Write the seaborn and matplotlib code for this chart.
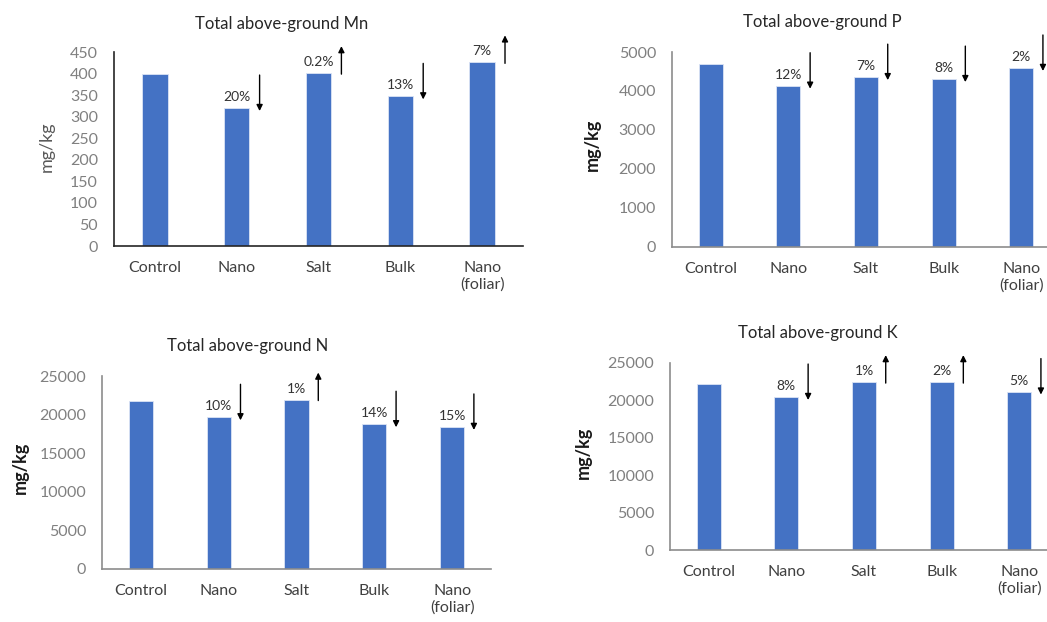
import matplotlib.pyplot as plt
import seaborn as sns

categories = ["Control", "Nano", "Salt", "Bulk", "Nano\n(foliar)"]

mn_values = [400, 320, 401, 347, 426]
mn_labels = ["", "20%", "0.2%", "13%", "7%"]
mn_dirs = [0, -1, 1, -1, 1]

p_values = [4690, 4135, 4355, 4305, 4590]
p_labels = ["", "12%", "7%", "8%", "2%"]
p_dirs = [0, -1, -1, -1, -1]

n_values = [21800, 19650, 21950, 18750, 18400]
n_labels = ["", "10%", "1%", "14%", "15%"]
n_dirs = [0, -1, 1, -1, -1]

k_values = [22250, 20450, 22450, 22450, 21180]
k_labels = ["", "8%", "1%", "2%", "5%"]
k_dirs = [0, -1, 1, 1, -1]

W, H = 1047, 622
BAR = "#4472C4"

sns.set_style("white")
plt.rcParams["font.family"] = ["Lato", "DejaVu Sans"]

fig = plt.figure(figsize=(W / 100, H / 100), dpi=100)

# name, values, labels, dirs, ymax, step, axes box in pixels (left, top, right, bottom),
# title pos, ylabel pos, spine colour, ylabel style
panels = [
    ("Mn", mn_values, mn_labels, mn_dirs, 450, 50, (114, 52, 523, 246), (282, 24), (47, 147), "#262626", "gray"),
    ("P", p_values, p_labels, p_dirs, 5000, 1000, (672, 52, 1060, 247), (822, 22), (592, 145), "#8c8c8c", "bold"),
    ("N", n_values, n_labels, n_dirs, 25000, 5000, (102, 376, 491, 569), (248, 346), (20, 468), "#8c8c8c", "bold"),
    ("K", k_values, k_labels, k_dirs, 25000, 5000, (670, 363, 1058, 550), (818, 333), (583, 453), "#8c8c8c", "bold"),
]

for name, vals, labels, dirs, ymax, step, box, tpos, ylpos, spc, ylstyle in panels:
    l, t, r, b = box
    ax = fig.add_axes([l / W, 1 - b / H, (r - l) / W, (b - t) / H])
    sns.barplot(x=categories, y=vals, color=BAR, width=0.31, ax=ax,
                edgecolor="#dbe4f5", linewidth=0.6, saturation=1)
    ax.set_ylim(0, ymax)
    ax.set_yticks(range(0, ymax + 1, step))
    ax.set_xlim(-0.5, 4.5)
    sns.despine(ax=ax)
    for s in ["left", "bottom"]:
        ax.spines[s].set_color(spc)
        ax.spines[s].set_linewidth(1.2)
    ax.tick_params(axis="y", length=0, pad=11.5, labelsize=11.5, labelcolor="#808080")
    ax.tick_params(axis="x", length=0, pad=11, labelsize=11.5, labelcolor="#404040")
    ax.set_xlabel("")
    ax.set_ylabel("")

    per_px = ymax / (b - t)
    for i, (v, lab, d) in enumerate(zip(vals, labels, dirs)):
        if not lab:
            continue
        ax.text(i, v + 11 * per_px, lab, ha="center", va="center",
                fontsize=10, color="#333333")
        ax_x = i + 0.28
        if d < 0:
            y0, y1 = v + 33 * per_px, v - 3 * per_px
        else:
            y0, y1 = v - 1 * per_px, v + 27 * per_px
        ax.annotate("", xy=(ax_x, y1), xytext=(ax_x, y0), annotation_clip=False,
                    arrowprops=dict(arrowstyle="-|>", color="black", lw=1.0,
                                    mutation_scale=9, shrinkA=0, shrinkB=0))

    fig.text(tpos[0] / W, 1 - tpos[1] / H, f"Total above-ground {name}",
             ha="center", va="center", fontsize=12, color="#262626")
    if ylstyle == "bold":
        fig.text(ylpos[0] / W, 1 - ylpos[1] / H, "mg/kg", rotation=90,
                 ha="center", va="center", fontsize=13, fontweight="bold", color="#1a1a1a")
    else:
        fig.text(ylpos[0] / W, 1 - ylpos[1] / H, "mg/kg", rotation=90,
                 ha="center", va="center", fontsize=13, color="#595959")

fig.savefig("out.png", dpi=100)
